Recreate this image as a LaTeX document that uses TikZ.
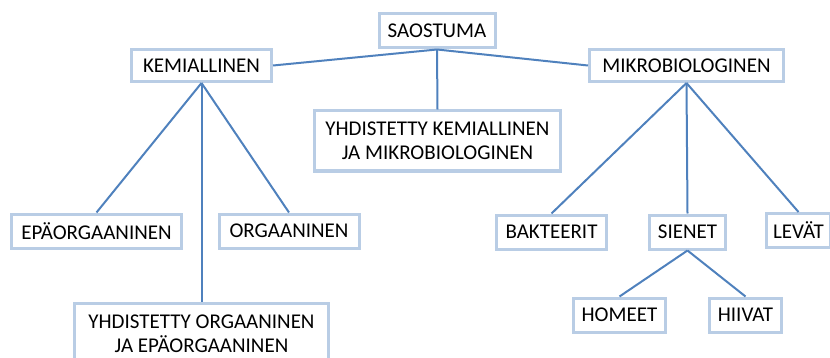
\documentclass[tikz,border=0pt]{standalone}
\usepackage{fontspec}
\setmainfont{Carlito}
\usepackage{xcolor}
\usepackage{tikz}
\usetikzlibrary{arrows.meta,positioning,calc}

\definecolor{boxline}{HTML}{B9CDE5}
\definecolor{linkline}{HTML}{4F81BD}

\begin{document}
\begin{tikzpicture}[
  x=0.5pt,y=-0.5pt,
  box/.style={draw=boxline,fill=white,line width=1.5pt,align=center,inner sep=1pt,font=\fontsize{10.5}{12}\selectfont},
  edge/.style={draw=linkline,line width=1pt}
]
\useasboundingbox (0,0) rectangle (830,358);
\node[box,minimum width=58pt,minimum height=17pt] (s) at (437,31) {SAOSTUMA};
\node[box,minimum width=70pt,minimum height=16pt] (k) at (201.5,65.5) {KEMIALLINEN};
\node[box,minimum width=97pt,minimum height=16pt] (m) at (686.5,65.5) {MIKROBIOLOGINEN};
\node[box,minimum width=123pt,minimum height=30pt] (km) at (437.5,141) {YHDISTETTY KEMIALLINEN\\JA MIKROBIOLOGINEN};
\node[box,minimum width=85pt,minimum height=17pt] (ep) at (96.5,231) {EPÄORGAANINEN};
\node[box,minimum width=70pt,minimum height=17pt] (or) at (289,231) {ORGAANINEN};
\node[box,minimum width=127pt,minimum height=31pt] (oe) at (201.5,334) {YHDISTETTY ORGAANINEN\\JA EPÄORGAANINEN};
\node[box,minimum width=55pt,minimum height=17pt] (b) at (551.5,232) {BAKTEERIT};
\node[box,minimum width=38pt,minimum height=17pt] (si) at (687.5,232) {SIENET};
\node[box,minimum width=32pt,minimum height=17pt] (l) at (798.5,230.5) {LEVÄT};
\node[box,minimum width=46pt,minimum height=17pt] (h) at (619.5,315) {HOMEET};
\node[box,minimum width=36pt,minimum height=17pt] (hi) at (745.5,315) {HIIVAT};
% links
\draw[edge] (s.south)--(k.east);
\draw[edge] (s.south)--(m.west);
\draw[edge] (s.south)--(km.north);
\foreach \x in {ep,or,oe} \draw[edge] (k.south)--(\x.north);
\foreach \x in {b,si,l} \draw[edge] (m.south)--(\x.north);
\foreach \x in {h,hi} \draw[edge] (si.south)--(\x.north);
\end{tikzpicture}
\end{document}
